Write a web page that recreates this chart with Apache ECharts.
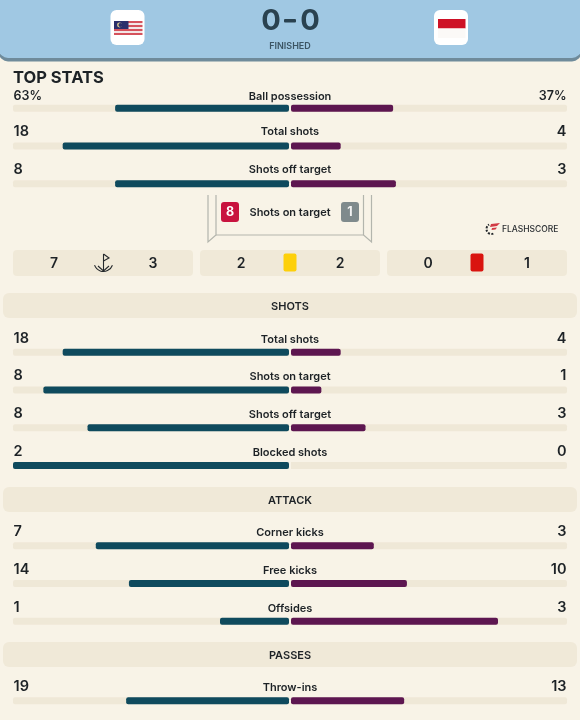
<!DOCTYPE html>
<html>
<head>
<meta charset="utf-8">
<style>
html, body { margin: 0; padding: 0; background: #f8f3e7; }
#chart { width: 580px; height: 720px; }
</style>
<script src="https://cdn.jsdelivr.net/npm/echarts@6/dist/echarts.min.js"></script>
</head>
<body>
<div id="chart"></div>
<script>
// top stats
var topLabels = ['Ball possession', 'Total shots', 'Shots off target']
var topHome = ['63%', '18', '8']
var topAway = ['37%', '4', '3']
var topHomeBar = [63, 82, 63]
var topAwayBar = [37, 18, 38]

// shots
var shotLabels = ['Total shots', 'Shots on target', 'Shots off target', 'Blocked shots']
var shotHome = ['18', '8', '8', '2']
var shotAway = ['4', '1', '3', '0']
var shotHomeBar = [82, 89, 73, 100]
var shotAwayBar = [18, 11, 27, 0]

// attack
var attackLabels = ['Corner kicks', 'Free kicks', 'Offsides']
var attackHome = ['7', '14', '1']
var attackAway = ['3', '10', '3']
var attackHomeBar = [70, 58, 25]
var attackAwayBar = [30, 42, 75]

// passes
var passLabels = ['Throw-ins']
var passHome = ['19']
var passAway = ['13']
var passHomeBar = [59]
var passAwayBar = [41]

// small panels under the goal
var panelHome = ['7', '2', '0']
var panelAway = ['3', '2', '1']
var onTargetHome = '8'
var onTargetAway = '1'

var FONT = 'Inter'
var INK = '#1d2226'
var TRACK = '#efe8d7'
var BAND = '#f0e9d8'
var TEAL = '#0f4a5d'
var PURPLE = '#5d1650'
var ROW = 37.7

var sections = [
  { top: 89.5, labels: topLabels, home: topHome, away: topAway, homeBar: topHomeBar, awayBar: topAwayBar },
  { top: 333.5, labels: shotLabels, home: shotHome, away: shotAway, homeBar: shotHomeBar, awayBar: shotAwayBar },
  { top: 527, labels: attackLabels, home: attackHome, away: attackAway, homeBar: attackHomeBar, awayBar: attackAwayBar },
  { top: 682, labels: passLabels, home: passHome, away: passAway, homeBar: passHomeBar, awayBar: passAwayBar }
]

var grid = []
var xAxis = []
var yAxis = []
var series = []

function addGrid (sec, left, width, min, max, inverse) {
  var idx = grid.length
  grid.push({ left: left, width: width, top: sec.top, height: sec.labels.length * ROW })
  xAxis.push({ gridIndex: idx, type: 'value', min: min, max: max, inverse: inverse, show: false })
  yAxis.push({ gridIndex: idx, type: 'category', data: sec.labels, inverse: true, show: false })
  return idx
}

function addBars (idx, values, color, radius) {
  series.push({
    type: 'bar', xAxisIndex: idx, yAxisIndex: idx, silent: true, barWidth: 7, barGap: '-100%',
    itemStyle: { color: TRACK, borderRadius: radius },
    data: values.map(function () { return 100 })
  })
  series.push({
    type: 'bar', xAxisIndex: idx, yAxisIndex: idx, silent: true, barWidth: 7, barGap: '-100%',
    itemStyle: { color: color, borderRadius: 2 },
    data: values
  })
}

function addText (idx, xValue, texts, position, size, weight, offsetY, firstRowShift) {
  series.push({
    type: 'scatter', xAxisIndex: idx, yAxisIndex: idx, silent: true, symbolSize: 1,
    itemStyle: { color: 'transparent', opacity: 1 },
    label: {
      show: true, position: position, distance: 0, offset: [0, offsetY],
      fontFamily: FONT, fontSize: size, fontWeight: weight, color: INK,
      formatter: function (p) { return p.value[2] }
    },
    data: texts.map(function (t, i) {
      var item = { value: [xValue, i, t] }
      // the possession row sits a little lower, and its percent is smaller
      if (i === 0 && firstRowShift) {
        item.label = { offset: [0, offsetY + firstRowShift] }
        if (t.indexOf('%') >= 0) item.label.fontSize = 12.5
      }
      return item
    })
  })
}

sections.forEach(function (sec, n) {
  addBars(addGrid(sec, 13, 276, 0, 100, true), sec.homeBar, TEAL, [2, 0, 0, 2])
  addBars(addGrid(sec, 291, 276, 0, 100, false), sec.awayBar, PURPLE, [0, 2, 2, 0])
  var mid = addGrid(sec, 13, 554, -1, 1, false)
  var shift = n === 0 ? 2 : 0
  addText(mid, 0, sec.labels, 'inside', 11, 600, n === 0 ? -14 : -13, shift)
  addText(mid, -1, sec.home, 'right', 14.5, 600, -14, shift)
  addText(mid, 1, sec.away, 'left', 14.5, 600, -14, shift)
})

function rect (x, y, w, h, fill, r) {
  return { type: 'rect', shape: { x: x, y: y, width: w, height: h, r: r || 0 }, style: { fill: fill }, silent: true }
}
function text (x, y, str, size, weight, color, align) {
  return {
    type: 'text', x: x, y: y, silent: true,
    style: { text: str, fontFamily: FONT, fontSize: size, fontWeight: weight, fill: color, align: align || 'center', verticalAlign: 'middle' }
  }
}
function line (points, color, width) {
  return { type: 'polyline', shape: { points: points }, style: { stroke: color, lineWidth: width, fill: null }, silent: true }
}

var graphics = []
// header
graphics.push(rect(-1, -20, 582, 81.5, '#6f8b9b', 9))
graphics.push(rect(-1, -20, 582, 78, '#a0c8e3', 9))
graphics.push(rect(110.5, 10, 34, 35, '#ffffff', 6))
graphics.push(rect(434, 10, 34, 35, '#ffffff', 6))
// malaysia flag
for (var s = 0; s < 7; s++) {
  graphics.push(rect(114, 21 + s * 2, 28.5, 2, s % 2 === 0 ? '#d5525c' : '#f3e6e6'))
}
graphics.push(rect(114, 21, 14.5, 8, '#2a2f6c'))
graphics.push({ type: 'circle', shape: { cx: 119.5, cy: 25, r: 2.4 }, style: { fill: '#e8d890' }, silent: true })
graphics.push({ type: 'circle', shape: { cx: 120.4, cy: 25, r: 2 }, style: { fill: '#2a2f6c' }, silent: true })
// indonesia flag
graphics.push(rect(438, 19, 27.5, 9.5, '#ce1126'))
graphics.push(rect(438, 28.5, 27.5, 9.5, '#fbf9f7'))
graphics.push(text(271, 21, '0', 29, 700, '#2a4250'))
graphics.push(rect(284, 19, 12, 3.5, '#2a4250', 1))
graphics.push(text(310, 21, '0', 29, 700, '#2a4250'))
graphics.push(text(290, 46, 'FINISHED', 9, 600, '#3c5564'))

graphics.push(text(13, 78, 'TOP STATS', 16.5, 700, INK, 'left'))

// goal frame
graphics.push(line([[208, 195], [208, 242], [216, 235], [216, 195]], '#b3b5ad', 1.2))
graphics.push(line([[371.5, 195], [371.5, 242], [363.5, 235], [363.5, 195]], '#b3b5ad', 1.2))
graphics.push(line([[216, 235], [363.5, 235]], '#b3b5ad', 1.2))
graphics.push(rect(221, 202, 18, 20, '#c8133f', 3))
graphics.push(rect(341, 202, 18, 20, '#7f8a8c', 3))
graphics.push(text(230, 212.5, onTargetHome, 12.5, 700, '#ffffff'))
graphics.push(text(350, 212.5, onTargetAway, 12.5, 700, '#f2f2f2'))
graphics.push(text(290, 213, 'Shots on target', 11, 600, INK))

// flashscore mark
graphics.push({ type: 'arc', shape: { cx: 491.5, cy: 229, r: 5, startAngle: 1.2, endAngle: 4.2 }, style: { stroke: '#22262a', lineWidth: 2, lineDash: [2, 1.4], fill: null }, silent: true })
graphics.push({ type: 'polygon', shape: { points: [[491, 224], [500, 223], [497, 226], [490, 227]] }, style: { fill: '#d23a45' }, silent: true })
graphics.push({ type: 'polygon', shape: { points: [[492, 228], [497, 227.5], [495.5, 229.5], [491.5, 230]] }, style: { fill: '#d23a45' }, silent: true })
graphics.push(text(502, 229, 'FLASHSCORE', 8.5, 500, '#2a2e32', 'left'))

// panels
var panelLeft = [13, 200, 387]
panelLeft.forEach(function (x, i) {
  graphics.push(rect(x, 250, 180, 26, BAND, 4))
  graphics.push(text(x + 41, 263.5, panelHome[i], 14, 600, INK))
  graphics.push(text(x + 140, 263.5, panelAway[i], 14, 600, INK))
})
// corner flag icon
graphics.push(line([[103.5, 254], [103.5, 271]], '#25292c', 1.1))
graphics.push(line([[103.5, 254], [109, 258], [103.5, 261]], '#25292c', 1.1))
graphics.push({ type: 'arc', shape: { cx: 103.5, cy: 262, r: 9.5, startAngle: 0.35, endAngle: 2.8 }, style: { stroke: '#25292c', lineWidth: 1.1, fill: null }, silent: true })
graphics.push(line([[98, 266], [103.5, 271], [109, 266]], '#25292c', 1.1))
// cards
graphics.push(rect(283.5, 253.5, 13, 18, '#fdd00a', 2))
graphics.push(rect(470.5, 253.5, 13, 18, '#d9140f', 2))

// section bands
var bandTop = [293, 487, 642]
var bandTitle = ['SHOTS', 'ATTACK', 'PASSES']
bandTop.forEach(function (y, i) {
  graphics.push(rect(3, y, 574, 25, BAND, 6))
  graphics.push(text(290, y + 13.5, bandTitle[i], 11, 600, INK))
})

var myChart = echarts.init(document.getElementById('chart'))
myChart.setOption({
  backgroundColor: '#f8f3e7',
  animation: false,
  grid: grid,
  xAxis: xAxis,
  yAxis: yAxis,
  series: series,
  graphic: { elements: graphics }
})
</script>
</body>
</html>
